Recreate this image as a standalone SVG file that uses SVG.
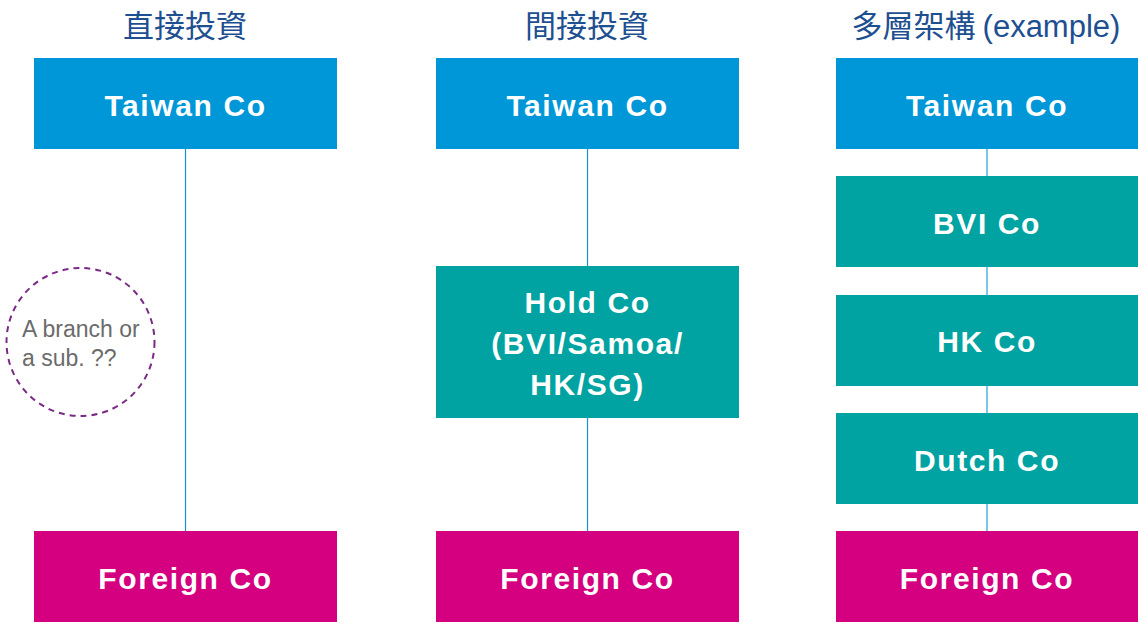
<svg xmlns="http://www.w3.org/2000/svg" width="1138" height="630" viewBox="0 0 1138 630">
<style>
.title{font-family:"Noto Sans CJK TC","Noto Sans CJK SC","Liberation Sans",sans-serif;font-size:31px;fill:#1e4f91;text-anchor:middle}
.lbl{font-family:"Liberation Sans",Arial,sans-serif;font-weight:bold;font-size:30px;fill:#fff;text-anchor:middle;letter-spacing:1.6px}
.blue{fill:#0097d8}
.teal{fill:#00a3a1}
.mag{fill:#d4007f}
.ln{stroke:#1a8fd0;stroke-width:1.2}
.ln2{stroke:#7cc6ea;stroke-width:2}
.note{font-family:"Liberation Sans",Arial,sans-serif;font-size:23px;fill:#6b6b6b}
</style>
<rect width="1138" height="630" fill="#fff"/>
<g id="titles">
<text class="title" x="185" y="37">直接投資</text>
<text class="title" x="587" y="37">間接投資</text>
<text class="title" x="986" y="37">多層架構 <tspan font-family="Liberation Sans,Arial,sans-serif">(example)</tspan></text>
</g>
<g id="connectors">
<line class="ln" x1="185.5" y1="149" x2="185.5" y2="531"/>
<line class="ln" x1="587.5" y1="149" x2="587.5" y2="266"/>
<line class="ln" x1="587.5" y1="418" x2="587.5" y2="531"/>
<line class="ln2" x1="987" y1="149" x2="987" y2="176"/>
<line class="ln2" x1="987" y1="267" x2="987" y2="295"/>
<line class="ln2" x1="987" y1="386" x2="987" y2="413"/>
<line class="ln2" x1="987" y1="504" x2="987" y2="531"/>
</g>
<g id="taiwan1"><rect class="blue" x="34" y="58" width="303" height="91"/><text class="lbl" x="185.5" y="116">Taiwan Co</text></g>
<g id="foreign1"><rect class="mag" x="34" y="531" width="303" height="91"/><text class="lbl" x="185.5" y="589">Foreign Co</text></g>
<g id="note1">
<circle cx="80.5" cy="342" r="74" fill="none" stroke="#7a2a86" stroke-width="2" stroke-dasharray="6,5"/>
<text class="note" x="22" y="337">A branch or</text>
<text class="note" x="22" y="366">a sub. ??</text>
</g>
<g id="taiwan2"><rect class="blue" x="436" y="58" width="303" height="91"/><text class="lbl" x="587.5" y="116">Taiwan Co</text></g>
<g id="hold2"><rect class="teal" x="436" y="266" width="303" height="152"/>
<text class="lbl" x="587.5" y="313">Hold Co</text>
<text class="lbl" x="587.5" y="354">(BVI/Samoa/</text>
<text class="lbl" x="587.5" y="395">HK/SG)</text></g>
<g id="foreign2"><rect class="mag" x="436" y="531" width="303" height="91"/><text class="lbl" x="587.5" y="589">Foreign Co</text></g>
<g id="taiwan3"><rect class="blue" x="836" y="58" width="302" height="91"/><text class="lbl" x="987" y="116">Taiwan Co</text></g>
<g id="bvi3"><rect class="teal" x="836" y="176" width="302" height="91"/><text class="lbl" x="987" y="234">BVI Co</text></g>
<g id="hk3"><rect class="teal" x="836" y="295" width="302" height="91"/><text class="lbl" x="987" y="352">HK Co</text></g>
<g id="dutch3"><rect class="teal" x="836" y="413" width="302" height="91"/><text class="lbl" x="987" y="471">Dutch Co</text></g>
<g id="foreign3"><rect class="mag" x="836" y="531" width="302" height="91"/><text class="lbl" x="987" y="589">Foreign Co</text></g>
</svg>
